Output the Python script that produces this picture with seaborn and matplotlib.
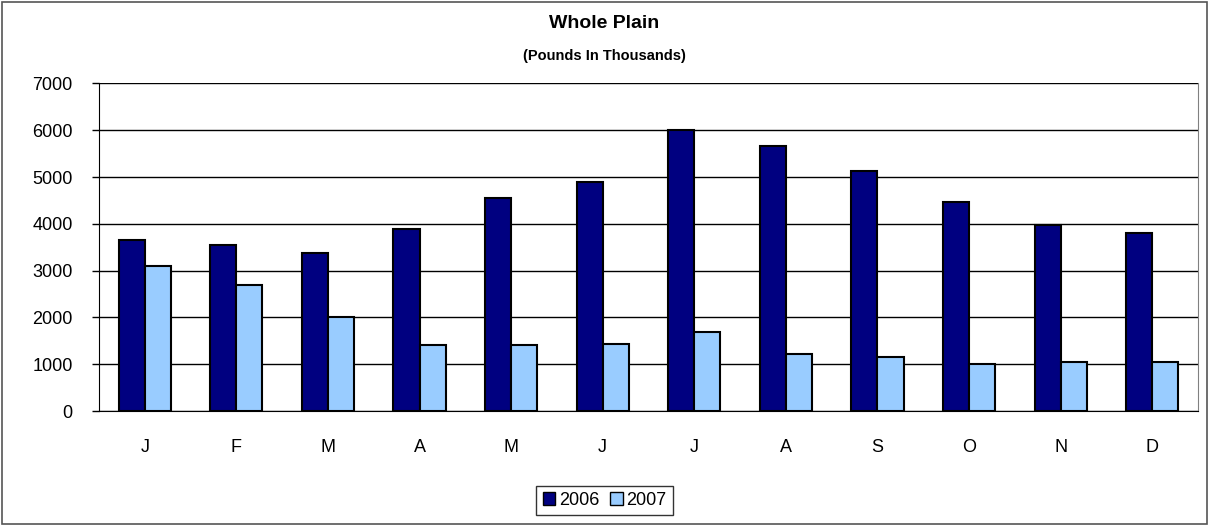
import pandas as pd
import seaborn as sns
import matplotlib.pyplot as plt
from matplotlib.patches import Rectangle

# Values (pounds in thousands)
months = ["Jan", "Feb", "Mar", "Apr", "May", "Jun",
          "Jul", "Aug", "Sep", "Oct", "Nov", "Dec"]
month_labels = ["J", "F", "M", "A", "M", "J", "J", "A", "S", "O", "N", "D"]
years = ["2006", "2007"]
values_2006 = [3660, 3540, 3380, 3880, 4560, 4890, 6000, 5655, 5120, 4460, 3970, 3800]
values_2007 = [3100, 2685, 2015, 1420, 1410, 1425, 1695, 1225, 1155, 1010, 1045, 1045]
colors = ["#000080", "#99CCFF"]
y_ticks = [0, 1000, 2000, 3000, 4000, 5000, 6000, 7000]

df = pd.DataFrame({
    "Month": months * 2,
    "Year": [years[0]] * 12 + [years[1]] * 12,
    "Pounds": values_2006 + values_2007,
})

sns.set_style("white")
plt.rcParams["font.family"] = ["Liberation Sans", "DejaVu Sans"]
plt.rcParams["text.color"] = "black"
plt.rcParams["xtick.color"] = "black"
plt.rcParams["ytick.color"] = "black"

fig = plt.figure(figsize=(12.09, 5.25), dpi=100)
ax = fig.add_axes([0.0819, 0.217, 0.909, 0.624])

sns.barplot(data=df, x="Month", y="Pounds", hue="Year", order=months,
            palette=colors, saturation=1, width=0.57, edgecolor="black",
            linewidth=1.5, ax=ax, zorder=3)

ax.set_ylim(0, 7000)
ax.set_xlim(-0.5, 11.5)
ax.set_yticks(y_ticks)
ax.set_yticklabels([str(v) for v in y_ticks], fontsize=13)
ax.yaxis.grid(True, color="black", linewidth=1)
ax.set_axisbelow(True)

# category labels centred, ticks on the boundaries between categories
ax.set_xticks(range(12))
ax.set_xticklabels(month_labels, fontsize=13)
ax.tick_params(axis="x", which="major", length=0, pad=20)
ax.set_xticks([i - 0.5 for i in range(13)], minor=True)
ax.tick_params(axis="x", which="minor", length=6, width=1, color="black", direction="out")
ax.tick_params(axis="y", length=5, width=1, color="black", direction="out", left=True, pad=14)
ax.set_xlabel("")
ax.set_ylabel("")

ax.spines["top"].set_visible(False)
ax.spines["left"].set_color("black")
ax.spines["bottom"].set_color("black")
ax.spines["right"].set_color("#808080")

fig.text(0.5, 0.955, "Whole Plain", ha="center", va="center", fontsize=14, fontweight="bold")
fig.text(0.5, 0.893, "(Pounds In Thousands)", ha="center", va="center", fontsize=10.5, fontweight="bold")

ax.legend_.remove()
handles = [Rectangle((0, 0), 1, 1, facecolor=c, edgecolor="black", linewidth=1) for c in colors]
leg = fig.legend(handles, years, loc="center", bbox_to_anchor=(0.5, 0.047), ncol=2,
                 fontsize=13, frameon=True, fancybox=False, handlelength=0.7,
                 handleheight=0.7, handletextpad=0.2, columnspacing=0.6,
                 borderpad=0.35, edgecolor="black")
leg.get_frame().set_linewidth(1)

# outer chart border
fig.patches.append(Rectangle((0.002, 0.002), 0.996, 0.994, transform=fig.transFigure,
                             fill=False, edgecolor="#555555", linewidth=1.2))

fig.savefig("out.png", dpi=100)
